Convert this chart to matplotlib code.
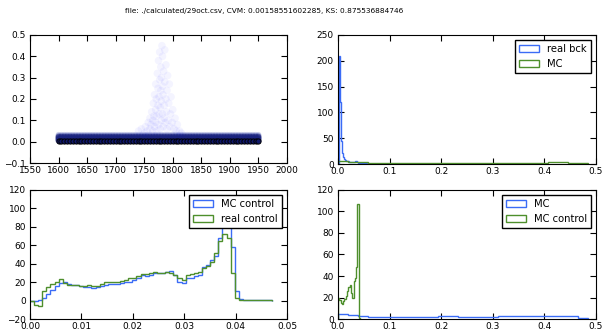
import numpy as np
import matplotlib
matplotlib.use('Agg')
import matplotlib.pyplot as plt

title = "file: ./calculated/29oct.csv, CVM: 0.00158551602285, KS: 0.875536884746"

# top left: scatter of signal vs mass
grid_x = [1600, 1605, 1610, 1615, 1620, 1625, 1630, 1635, 1640, 1645, 1650, 1655,
          1660, 1665, 1670, 1675, 1680, 1685, 1690, 1695, 1700, 1705, 1710, 1715,
          1720, 1725, 1730, 1735, 1740, 1745, 1750, 1755, 1760, 1765, 1770, 1775,
          1780, 1785, 1790, 1795, 1800, 1805, 1810, 1815, 1820, 1825, 1830, 1835,
          1840, 1845, 1850, 1855, 1860, 1865, 1870, 1875, 1880, 1885, 1890, 1895,
          1900, 1905, 1910, 1915, 1920, 1925, 1930, 1935, 1940, 1945, 1950]
band_y = [0.004, 0.008, 0.012, 0.016, 0.02, 0.024]
halo_y = [0.028, 0.032]
base_y = 0.005

peak_x = [1740, 1745, 1750, 1752, 1755, 1757, 1760, 1760, 1762, 1763, 1765, 1765,
          1766, 1767, 1768, 1768, 1770, 1770, 1770, 1771, 1772, 1772, 1773, 1774,
          1774, 1775, 1775, 1776, 1776, 1777, 1777, 1778, 1778, 1779, 1779, 1780,
          1780, 1780, 1781, 1782, 1782, 1782, 1783, 1783, 1784, 1785, 1785, 1786,
          1786, 1787, 1788, 1788, 1789, 1790, 1790, 1791, 1792, 1793, 1794, 1795,
          1796, 1797, 1799, 1800, 1802, 1804, 1806, 1808, 1812, 1815]
peak_y = [0.05, 0.06, 0.04, 0.07, 0.05, 0.09, 0.06, 0.11, 0.08, 0.14, 0.05, 0.10,
          0.18, 0.12, 0.07, 0.22, 0.09, 0.15, 0.27, 0.20, 0.05, 0.12, 0.32, 0.17,
          0.25, 0.08, 0.38, 0.13, 0.21, 0.29, 0.42, 0.06, 0.16, 0.24, 0.35, 0.10,
          0.19, 0.30, 0.45, 0.13, 0.26, 0.40, 0.07, 0.22, 0.33, 0.11, 0.17, 0.28,
          0.43, 0.09, 0.20, 0.36, 0.14, 0.06, 0.24, 0.31, 0.10, 0.18, 0.27, 0.07,
          0.13, 0.21, 0.09, 0.15, 0.06, 0.11, 0.05, 0.08, 0.05, 0.04]

# top right: real background vs MC
bck_edges = np.linspace(0.001, 0.057, 29)
bck_vals = [210, 120, 45, 22, 14, 10, 8, 6, 5, 5, 4, 4, 4, 4,
            4, 4, 5, 6, 3, 2, 2, 2, 1.5, 1.5, 1.5, 1, 1, 1]

mc_edges = np.linspace(0.0, 0.485, 26)
mc_vals = [5, 3.5, 3, 2, 1.8, 1.8, 1.8, 2, 2, 2.2, 2.5, 2.4, 2.2,
           2.2, 2.3, 2.3, 2.4, 2.5, 2.6, 2.7, 2.8, 3.2, 3, 2.5, 1.2]

# bottom left: control distributions
ctrl_edges = np.linspace(0.0, 0.047, 60)
mc_ctrl_vals = [0, 0, 1, 3, 7, 12, 16, 19, 20, 18, 17, 17, 16, 15, 15, 14, 15, 16,
                17, 18, 18, 18, 19, 20, 20, 22, 24, 28, 27, 28, 30, 30, 30, 31, 32,
                28, 20, 19, 24, 25, 27, 28, 36, 39, 44, 48, 68, 85, 80, 58, 10, 2,
                0.5, 0.5, 0.5, 0.5, 0.5, 0.5, 0.5]
real_ctrl_vals = [-1, -5, -6, 10, 15, 18, 20, 23, 19, 17, 17, 17, 16, 16, 17, 16,
                  16, 18, 20, 20, 20, 20, 21, 22, 24, 25, 27, 29, 29, 30, 31, 30,
                  30, 31, 30, 28, 25, 22, 28, 29, 30, 31, 35, 38, 42, 52, 65, 72,
                  68, 30, 3, 1, 0.5, 0.5, 0.5, 0.5, 0.5, 0.5, 0.5]

# bottom right: MC vs MC control (coarse)
mcc_edges = np.linspace(0.0, 0.045, 19)
mcc_vals = [20, 18, 15, 14, 17, 19, 21, 26, 30, 32, 24, 20, 35, 38, 48, 107, 1, 0]

blue = '#3b6cf6'
green = '#4e8f2c'

plt.rcParams.update({
    'font.size': 6.5,
    'xtick.direction': 'in',
    'ytick.direction': 'in',
    'xtick.top': True,
    'ytick.right': True,
    'xtick.major.size': 4,
    'ytick.major.size': 4,
    'xtick.major.pad': 2,
    'ytick.major.pad': 3,
    'axes.linewidth': 0.8,
    'legend.fancybox': False,
    'legend.edgecolor': 'black',
    'legend.framealpha': 1,
    'legend.fontsize': 7.2,
})

fig = plt.figure(figsize=(6.02, 3.30), dpi=100)
fig.suptitle(title, fontsize=5.3, x=0.438, y=0.975)

ax1 = fig.add_axes([0.0498, 0.506, 0.427, 0.388])
ax2 = fig.add_axes([0.5615, 0.503, 0.4286, 0.391])
ax3 = fig.add_axes([0.0498, 0.0333, 0.427, 0.391])
ax4 = fig.add_axes([0.5615, 0.0333, 0.4286, 0.391])

# scatter panel
hx, hy = np.meshgrid(grid_x, halo_y)
ax1.scatter(hx.ravel(), hy.ravel(), s=18, c='#2030a0', edgecolors='none', alpha=0.2)
gx, gy = np.meshgrid(grid_x, band_y)
ax1.scatter(gx.ravel(), gy.ravel(), s=18, c='#1a237e', edgecolors='none', alpha=0.55)
ax1.scatter(peak_x, peak_y, s=30, c='b', edgecolors='none', alpha=0.045)
ax1.scatter(grid_x, [base_y] * len(grid_x), s=14, c='#10186a', edgecolors='k', linewidths=0.7)
ax1.set_xlim(1550, 2000)
ax1.set_ylim(-0.1, 0.5)
ax1.set_xticks(np.arange(1550, 2001, 50))
ax1.set_yticks(np.arange(-0.1, 0.51, 0.1))


def hist_step(ax, edges, vals, color, label):
    centers = (edges[:-1] + edges[1:]) / 2
    ax.hist(centers, bins=edges, weights=vals, histtype='step', color=color,
            linewidth=1.0, label=label)


hist_step(ax2, bck_edges, bck_vals, blue, 'real bck')
hist_step(ax2, mc_edges, mc_vals, green, 'MC')
ax2.set_xlim(0, 0.5)
ax2.set_ylim(0, 250)
ax2.legend(loc='upper right')

hist_step(ax3, ctrl_edges, mc_ctrl_vals, blue, 'MC control')
hist_step(ax3, ctrl_edges, real_ctrl_vals, green, 'real control')
ax3.set_xlim(0, 0.05)
ax3.set_ylim(-20, 120)
ax3.set_xticks(np.arange(0, 0.051, 0.01))
ax3.legend(loc='upper right')

hist_step(ax4, mc_edges, mc_vals, blue, 'MC')
hist_step(ax4, mcc_edges, mcc_vals, green, 'MC control')
ax4.set_xlim(0, 0.5)
ax4.set_ylim(0, 120)
ax4.legend(loc='upper right')

for ax in (ax2, ax4):
    ax.set_xticks(np.arange(0, 0.51, 0.1))
ax2.set_yticks(np.arange(0, 251, 50))
ax4.set_yticks(np.arange(0, 121, 20))
ax3.set_yticks(np.arange(-20, 121, 20))

fig.savefig('out.png', dpi=100)
